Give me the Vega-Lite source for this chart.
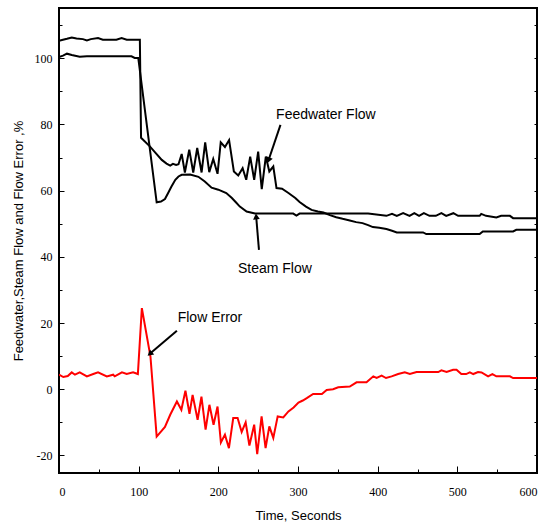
{
  "$schema": "https://vega.github.io/schema/vega-lite/v6.json",
  "width": 478,
  "height": 465,
  "autosize": {"type": "none"},
  "padding": {"left": 59, "top": 8, "right": 14, "bottom": 58},
  "background": "white",
  "config": {
    "view": {"stroke": "black", "strokeWidth": 2},
    "axis": {
      "labelFont": "Liberation Sans Narrow",
      "labelFontSize": 12,
      "labelColor": "black",
      "titleFont": "Liberation Sans",
      "titleFontSize": 13,
      "titleFontWeight": "normal",
      "titleColor": "black",
      "tickColor": "black",
      "tickWidth": 1,
      "domain": false,
      "grid": false
    }
  },
  "datasets": {
    "lines": [
      {"s": "Feedwater", "t": 0, "v": 105.3},
      {"s": "Feedwater", "t": 5, "v": 105.6},
      {"s": "Feedwater", "t": 10, "v": 105.9},
      {"s": "Feedwater", "t": 16, "v": 106.3},
      {"s": "Feedwater", "t": 22, "v": 106.0},
      {"s": "Feedwater", "t": 30, "v": 105.8},
      {"s": "Feedwater", "t": 35, "v": 105.4},
      {"s": "Feedwater", "t": 40, "v": 105.8},
      {"s": "Feedwater", "t": 49, "v": 106.1},
      {"s": "Feedwater", "t": 55, "v": 105.6},
      {"s": "Feedwater", "t": 72, "v": 105.6},
      {"s": "Feedwater", "t": 78.6, "v": 106.1},
      {"s": "Feedwater", "t": 85, "v": 105.6},
      {"s": "Feedwater", "t": 101.5, "v": 105.6},
      {"s": "Feedwater", "t": 103, "v": 76},
      {"s": "Feedwater", "t": 114, "v": 73.4},
      {"s": "Feedwater", "t": 122, "v": 71.2},
      {"s": "Feedwater", "t": 129, "v": 69.3},
      {"s": "Feedwater", "t": 135, "v": 68.2},
      {"s": "Feedwater", "t": 139.6, "v": 67.6},
      {"s": "Feedwater", "t": 143, "v": 68.1},
      {"s": "Feedwater", "t": 147, "v": 67.8},
      {"s": "Feedwater", "t": 150, "v": 68},
      {"s": "Feedwater", "t": 154, "v": 71.1},
      {"s": "Feedwater", "t": 158, "v": 65.5},
      {"s": "Feedwater", "t": 163.5, "v": 72.4},
      {"s": "Feedwater", "t": 168.5, "v": 65.5},
      {"s": "Feedwater", "t": 173.5, "v": 72.9},
      {"s": "Feedwater", "t": 179, "v": 65.5},
      {"s": "Feedwater", "t": 183.5, "v": 74.6},
      {"s": "Feedwater", "t": 188.6, "v": 65.6},
      {"s": "Feedwater", "t": 193.6, "v": 69.6},
      {"s": "Feedwater", "t": 199, "v": 65.1},
      {"s": "Feedwater", "t": 203, "v": 74.6},
      {"s": "Feedwater", "t": 208.3, "v": 73.2},
      {"s": "Feedwater", "t": 213.5, "v": 75.3},
      {"s": "Feedwater", "t": 219.5, "v": 65.8},
      {"s": "Feedwater", "t": 225, "v": 64.6},
      {"s": "Feedwater", "t": 230.5, "v": 66.8},
      {"s": "Feedwater", "t": 235, "v": 63.3},
      {"s": "Feedwater", "t": 240, "v": 70.3},
      {"s": "Feedwater", "t": 245, "v": 63.3},
      {"s": "Feedwater", "t": 250, "v": 71.8},
      {"s": "Feedwater", "t": 254.5, "v": 60.5},
      {"s": "Feedwater", "t": 259.6, "v": 70.3},
      {"s": "Feedwater", "t": 264, "v": 65.8},
      {"s": "Feedwater", "t": 269, "v": 67.3},
      {"s": "Feedwater", "t": 273, "v": 60.8},
      {"s": "Feedwater", "t": 280, "v": 60.6},
      {"s": "Feedwater", "t": 288, "v": 59.3},
      {"s": "Feedwater", "t": 296.6, "v": 57.8},
      {"s": "Feedwater", "t": 302, "v": 56.6},
      {"s": "Feedwater", "t": 310, "v": 55.2},
      {"s": "Feedwater", "t": 317, "v": 54.2},
      {"s": "Feedwater", "t": 325, "v": 53.7},
      {"s": "Feedwater", "t": 332, "v": 53.4},
      {"s": "Feedwater", "t": 340, "v": 52.6},
      {"s": "Feedwater", "t": 348, "v": 52},
      {"s": "Feedwater", "t": 356, "v": 51.5},
      {"s": "Feedwater", "t": 365, "v": 51},
      {"s": "Feedwater", "t": 373, "v": 50.5},
      {"s": "Feedwater", "t": 381, "v": 50.2},
      {"s": "Feedwater", "t": 388, "v": 49.6},
      {"s": "Feedwater", "t": 394, "v": 49},
      {"s": "Feedwater", "t": 402, "v": 48.8},
      {"s": "Feedwater", "t": 411, "v": 48.4},
      {"s": "Feedwater", "t": 418, "v": 47.9},
      {"s": "Feedwater", "t": 424, "v": 47.4},
      {"s": "Feedwater", "t": 457, "v": 47.4},
      {"s": "Feedwater", "t": 461, "v": 46.9},
      {"s": "Feedwater", "t": 528, "v": 46.9},
      {"s": "Feedwater", "t": 532, "v": 47.7},
      {"s": "Feedwater", "t": 570, "v": 47.7},
      {"s": "Feedwater", "t": 574, "v": 48.2},
      {"s": "Feedwater", "t": 600, "v": 48.2},
      {"s": "Steam", "t": 0, "v": 100.4},
      {"s": "Steam", "t": 5, "v": 100.8},
      {"s": "Steam", "t": 10, "v": 101.4},
      {"s": "Steam", "t": 16, "v": 101.0},
      {"s": "Steam", "t": 26, "v": 100.5},
      {"s": "Steam", "t": 35, "v": 100.6},
      {"s": "Steam", "t": 91, "v": 100.6},
      {"s": "Steam", "t": 95, "v": 100.1},
      {"s": "Steam", "t": 99.5, "v": 100.1},
      {"s": "Steam", "t": 122.6, "v": 56.5},
      {"s": "Steam", "t": 128, "v": 56.7},
      {"s": "Steam", "t": 133, "v": 57.5},
      {"s": "Steam", "t": 137, "v": 59.3},
      {"s": "Steam", "t": 141, "v": 61.2},
      {"s": "Steam", "t": 146, "v": 63.3},
      {"s": "Steam", "t": 150, "v": 64.3},
      {"s": "Steam", "t": 154, "v": 64.8},
      {"s": "Steam", "t": 164.6, "v": 64.9},
      {"s": "Steam", "t": 175, "v": 64.2},
      {"s": "Steam", "t": 183, "v": 62.8},
      {"s": "Steam", "t": 191.5, "v": 60.9},
      {"s": "Steam", "t": 200, "v": 60.3},
      {"s": "Steam", "t": 210, "v": 59.3},
      {"s": "Steam", "t": 217, "v": 57.8},
      {"s": "Steam", "t": 222, "v": 56.5},
      {"s": "Steam", "t": 227, "v": 55.2},
      {"s": "Steam", "t": 235.5, "v": 53.7},
      {"s": "Steam", "t": 246, "v": 53.1},
      {"s": "Steam", "t": 294, "v": 53.1},
      {"s": "Steam", "t": 298, "v": 52.5},
      {"s": "Steam", "t": 302, "v": 53.1},
      {"s": "Steam", "t": 388, "v": 53.1},
      {"s": "Steam", "t": 411, "v": 52.4},
      {"s": "Steam", "t": 418, "v": 53.0},
      {"s": "Steam", "t": 424, "v": 52.4},
      {"s": "Steam", "t": 432, "v": 53.2},
      {"s": "Steam", "t": 440, "v": 52.4},
      {"s": "Steam", "t": 446, "v": 53.2},
      {"s": "Steam", "t": 452, "v": 52.4},
      {"s": "Steam", "t": 458, "v": 53.2},
      {"s": "Steam", "t": 465, "v": 52.4},
      {"s": "Steam", "t": 473, "v": 52.4},
      {"s": "Steam", "t": 480, "v": 53.2},
      {"s": "Steam", "t": 486, "v": 52.4},
      {"s": "Steam", "t": 495, "v": 53.2},
      {"s": "Steam", "t": 501, "v": 52.4},
      {"s": "Steam", "t": 528, "v": 52.4},
      {"s": "Steam", "t": 530, "v": 53.0},
      {"s": "Steam", "t": 536, "v": 52.4},
      {"s": "Steam", "t": 549, "v": 51.9},
      {"s": "Steam", "t": 555, "v": 52.4},
      {"s": "Steam", "t": 566, "v": 52.4},
      {"s": "Steam", "t": 570, "v": 51.7},
      {"s": "Steam", "t": 600, "v": 51.7},
      {"s": "Error", "t": 0, "v": 4.4},
      {"s": "Error", "t": 5.4, "v": 3.7},
      {"s": "Error", "t": 11, "v": 4.0},
      {"s": "Error", "t": 16, "v": 5.1},
      {"s": "Error", "t": 20, "v": 4.4},
      {"s": "Error", "t": 26, "v": 5.1},
      {"s": "Error", "t": 35, "v": 3.9},
      {"s": "Error", "t": 43, "v": 4.6},
      {"s": "Error", "t": 49, "v": 5.1},
      {"s": "Error", "t": 60, "v": 3.9},
      {"s": "Error", "t": 68, "v": 4.4},
      {"s": "Error", "t": 70, "v": 3.9},
      {"s": "Error", "t": 79, "v": 5.1},
      {"s": "Error", "t": 85, "v": 4.6},
      {"s": "Error", "t": 93, "v": 5.1},
      {"s": "Error", "t": 99, "v": 4.6},
      {"s": "Error", "t": 104, "v": 24.5},
      {"s": "Error", "t": 114.8, "v": 9.9},
      {"s": "Error", "t": 122.6, "v": -14.3},
      {"s": "Error", "t": 133, "v": -11.4},
      {"s": "Error", "t": 139.6, "v": -7.7},
      {"s": "Error", "t": 148, "v": -3.7},
      {"s": "Error", "t": 153.6, "v": -6.2},
      {"s": "Error", "t": 158.7, "v": -0.4},
      {"s": "Error", "t": 163.8, "v": -7.4},
      {"s": "Error", "t": 167.7, "v": -1.7},
      {"s": "Error", "t": 174, "v": -9.2},
      {"s": "Error", "t": 178.8, "v": -2.2},
      {"s": "Error", "t": 184, "v": -12.2},
      {"s": "Error", "t": 188.8, "v": -4.7},
      {"s": "Error", "t": 194, "v": -10.7},
      {"s": "Error", "t": 199, "v": -5.2},
      {"s": "Error", "t": 203.2, "v": -16.1},
      {"s": "Error", "t": 208.3, "v": -13.7},
      {"s": "Error", "t": 213.3, "v": -17.8},
      {"s": "Error", "t": 218.7, "v": -8.7},
      {"s": "Error", "t": 224.2, "v": -8.7},
      {"s": "Error", "t": 229.3, "v": -12.9},
      {"s": "Error", "t": 234.3, "v": -10},
      {"s": "Error", "t": 239, "v": -17},
      {"s": "Error", "t": 245, "v": -10.7},
      {"s": "Error", "t": 248.8, "v": -19.6},
      {"s": "Error", "t": 254.3, "v": -8.2},
      {"s": "Error", "t": 259.3, "v": -17.8},
      {"s": "Error", "t": 264, "v": -11.2},
      {"s": "Error", "t": 269, "v": -14.7},
      {"s": "Error", "t": 274.5, "v": -8.2},
      {"s": "Error", "t": 281.5, "v": -8.5},
      {"s": "Error", "t": 288, "v": -6.7},
      {"s": "Error", "t": 294.5, "v": -5.5},
      {"s": "Error", "t": 300.6, "v": -4},
      {"s": "Error", "t": 306, "v": -3.4},
      {"s": "Error", "t": 311, "v": -2.7},
      {"s": "Error", "t": 319, "v": -1.4},
      {"s": "Error", "t": 330, "v": -1.4},
      {"s": "Error", "t": 336, "v": -0.2},
      {"s": "Error", "t": 344, "v": 0},
      {"s": "Error", "t": 350.5, "v": 0.6},
      {"s": "Error", "t": 365, "v": 0.8},
      {"s": "Error", "t": 373.5, "v": 2.1},
      {"s": "Error", "t": 386, "v": 2.1},
      {"s": "Error", "t": 394.5, "v": 3.9},
      {"s": "Error", "t": 398.7, "v": 3.4},
      {"s": "Error", "t": 405, "v": 4.1},
      {"s": "Error", "t": 410.5, "v": 3.4},
      {"s": "Error", "t": 417.5, "v": 3.9},
      {"s": "Error", "t": 425.7, "v": 4.6},
      {"s": "Error", "t": 434, "v": 5.1},
      {"s": "Error", "t": 440.4, "v": 4.6},
      {"s": "Error", "t": 448.8, "v": 5.2},
      {"s": "Error", "t": 476, "v": 5.2},
      {"s": "Error", "t": 480, "v": 5.7},
      {"s": "Error", "t": 486.5, "v": 5.2},
      {"s": "Error", "t": 494.7, "v": 5.9},
      {"s": "Error", "t": 499, "v": 5.9},
      {"s": "Error", "t": 505, "v": 4.6},
      {"s": "Error", "t": 511, "v": 4.6},
      {"s": "Error", "t": 515.7, "v": 5.1},
      {"s": "Error", "t": 520, "v": 4.6},
      {"s": "Error", "t": 526, "v": 5.2},
      {"s": "Error", "t": 530.4, "v": 5.1},
      {"s": "Error", "t": 538.6, "v": 3.9},
      {"s": "Error", "t": 544, "v": 4.6},
      {"s": "Error", "t": 549, "v": 3.9},
      {"s": "Error", "t": 566, "v": 3.9},
      {"s": "Error", "t": 570, "v": 3.4},
      {"s": "Error", "t": 600, "v": 3.4}
    ],
    "labels": [
      {"label": "Feedwater Flow", "t": 335, "v": 82.9},
      {"label": "Steam Flow", "t": 271, "v": 36.4},
      {"label": "Flow Error", "t": 189.5, "v": 21.6}
    ],
    "arrows": [
      {"a": "fw", "t": 278, "v": 79.9},
      {"a": "fw", "t": 263, "v": 69.2},
      {"a": "st", "t": 251, "v": 42.1},
      {"a": "st", "t": 247.5, "v": 52.2},
      {"a": "er", "t": 148, "v": 17.7},
      {"a": "er", "t": 114, "v": 10.7}
    ]
  },
  "layer": [
    {
      "data": {"name": "lines"},
      "mark": {"type": "line", "strokeWidth": 2, "clip": true},
      "encoding": {
        "x": {
          "field": "t", "type": "quantitative",
          "scale": {"domain": [0, 600], "nice": false},
          "axis": {"orient": "bottom", "values": [0, 100, 200, 300, 400, 500, 600], "tickSize": -7, "labelPadding": 20, "title": "Time, Seconds", "titlePadding": 12}
        },
        "y": {
          "field": "v", "type": "quantitative",
          "scale": {"domain": [-25.3, 115.2], "nice": false, "zero": false},
          "axis": {"orient": "left", "values": [-20, 0, 20, 40, 60, 80, 100], "labelExpr": "replace(datum.label, '\u2212', '-')", "tickSize": -5, "labelPadding": 12, "title": "Feedwater,Steam Flow and Flow Error ,%", "titlePadding": 9}
        },
        "color": {"field": "s", "type": "nominal", "scale": {"domain": ["Feedwater", "Steam", "Error"], "range": ["black", "black", "#ff0000"]}, "legend": null},
        "detail": {"field": "s"}
      }
    },
    {
      "data": {"name": "labels"},
      "mark": {"type": "text", "font": "Liberation Sans", "fontSize": 14, "color": "black", "align": "center", "baseline": "middle"},
      "encoding": {
        "x": {"field": "t", "type": "quantitative", "axis": {"orient": "bottom", "values": [50, 150, 250, 350, 450, 550], "tickSize": -4, "labels": false, "title": null}},
        "y": {"field": "v", "type": "quantitative", "axis": {"orient": "left", "values": [-10, 10, 30, 50, 70, 90, 110], "tickSize": -3, "labels": false, "title": null}},
        "text": {"field": "label"}
      }
    },
    {
      "data": {"name": "arrows"},
      "mark": {"type": "line", "strokeWidth": 2, "color": "black"},
      "encoding": {
        "x": {"field": "t", "type": "quantitative", "axis": null},
        "y": {"field": "v", "type": "quantitative", "axis": {"orient": "right", "values": [-20, -10, 0, 10, 20, 30, 40, 50, 60, 70, 80, 90, 100, 110], "tickSize": -3, "labels": false, "title": null}},
        "detail": {"field": "a"}
      }
    },
    {
      "data": {"name": "arrows"},
      "transform": [{"filter": "datum.a === 'fw' && datum.t < 270"}],
      "mark": {"type": "point", "shape": "triangle-up", "filled": true, "color": "black", "opacity": 1, "size": 45, "angle": 202},
      "encoding": {
        "x": {"field": "t", "type": "quantitative", "axis": null},
        "y": {"field": "v", "type": "quantitative", "axis": null}
      }
    },
    {
      "data": {"name": "arrows"},
      "transform": [{"filter": "datum.a === 'st' && datum.v > 50"}],
      "mark": {"type": "point", "shape": "triangle-up", "filled": true, "color": "black", "opacity": 1, "size": 45, "angle": 355},
      "encoding": {
        "x": {"field": "t", "type": "quantitative", "axis": null},
        "y": {"field": "v", "type": "quantitative", "axis": null}
      }
    },
    {
      "data": {"name": "arrows"},
      "transform": [{"filter": "datum.a === 'er' && datum.t < 130"}],
      "mark": {"type": "point", "shape": "triangle-up", "filled": true, "color": "black", "opacity": 1, "size": 45, "angle": 229},
      "encoding": {
        "x": {"field": "t", "type": "quantitative", "axis": null},
        "y": {"field": "v", "type": "quantitative", "axis": null}
      }
    }
  ],
  "resolve": {"axis": {"x": "independent", "y": "independent"}}
}
